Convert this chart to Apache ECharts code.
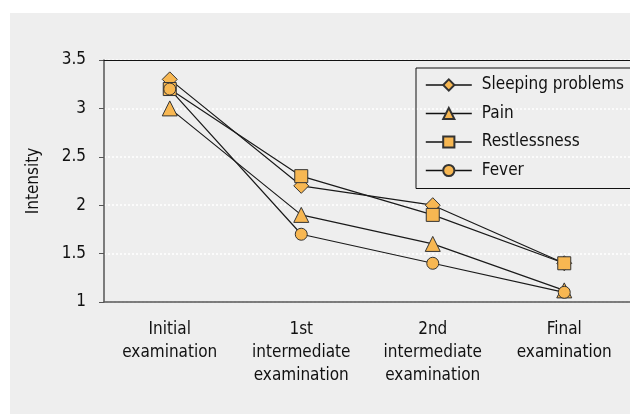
<!DOCTYPE html>
<html>
<head>
<meta charset="utf-8">
<title>Intensity</title>
<script src="https://cdn.jsdelivr.net/npm/echarts@6/dist/echarts.min.js"></script>
<style>
  html, body { margin: 0; padding: 0; background: #fff; }
  #main { width: 630px; height: 414px; }
</style>
</head>
<body>
<div id="main"></div>
<script>
// categories on the x axis
var stages = ['Initial\nexamination', '1st\nintermediate\nexamination', '2nd\nintermediate\nexamination', 'Final\nexamination'];
// series values
var sleeping = [3.3, 2.2, 2.0, 1.4];
var pain = [3.0, 1.9, 1.6, 1.12];
var restless = [3.2, 2.3, 1.9, 1.4];
var fever = [3.2, 1.7, 1.4, 1.1];
var yTicks = [1, 1.5, 2, 2.5, 3, 3.5];

var font = '"DejaVu Sans Condensed", "Liberation Sans Narrow", sans-serif';
var fill = '#f7b752';

function mkSeries(name, data, symbol, size) {
	return {
		name: name,
		type: 'line',
		data: data,
		symbol: symbol,
		symbolSize: size,
		lineStyle: { color: '#1a1a1a', width: 1.2 },
		itemStyle: { color: fill, borderColor: '#333', borderWidth: 1 },
		emphasis: { disabled: true },
		animation: false
	};
}

var myChart = echarts.init(document.getElementById('main'));
myChart.setOption({
	graphic: [{
		type: 'rect',
		z: -10,
		shape: { x: 10, y: 13, width: 620, height: 401 },
		style: { fill: '#eeeeee' },
		silent: true
	}],
	grid: {
		left: 104,
		top: 60,
		width: 533,
		height: 242
	},
	legend: {
		orient: 'vertical',
		left: 416,
		top: 68,
		padding: [7, 30, 8, 9],
		itemWidth: 46,
		itemHeight: 14,
		itemGap: 8.5,
		borderColor: '#111',
		borderWidth: 1,
		lineStyle: { width: 1.6, color: '#111' },
		textStyle: { fontFamily: font, fontSize: 17, color: '#111', lineHeight: 20, padding: [0, 0, 0, 5] },
		data: ['Sleeping problems', 'Pain', 'Restlessness', 'Fever']
	},
	xAxis: [{
		type: 'category',
		data: stages,
		boundaryGap: true,
		axisLine: { lineStyle: { color: '#555', width: 1.5 } },
		axisTick: { alignWithLabel: true, length: 5, lineStyle: { color: '#555' } },
		axisLabel: { fontFamily: font, fontSize: 17, color: '#111', lineHeight: 23, margin: 16, interval: 0 }
	}, {
		// top border of the plot
		type: 'category',
		data: stages,
		position: 'top',
		z: 5,
		axisLine: { lineStyle: { color: '#111', width: 1 } },
		axisTick: { show: false },
		axisLabel: { show: false }
	}],
	yAxis: {
		type: 'value',
		min: yTicks[0],
		max: yTicks[yTicks.length - 1],
		interval: 0.5,
		name: 'Intensity',
		nameLocation: 'middle',
		nameGap: 62,
		nameTextStyle: { fontFamily: font, fontSize: 17, color: '#111' },
		axisLine: { show: true, lineStyle: { color: '#555', width: 1.5 } },
		axisTick: { show: true, length: 5, lineStyle: { color: '#555' } },
		axisLabel: { fontFamily: font, fontSize: 17, color: '#111', margin: 18 },
		splitLine: {
			show: true,
			lineStyle: { color: '#ffffff', type: [2, 2], width: 1.5 }
		}
	},
	series: [
		mkSeries('Sleeping problems', sleeping, 'diamond', 15),
		mkSeries('Pain', pain, 'triangle', 15),
		mkSeries('Restlessness', restless, 'rect', 13),
		mkSeries('Fever', fever, 'circle', 12)
	]
});
</script>
</body>
</html>
